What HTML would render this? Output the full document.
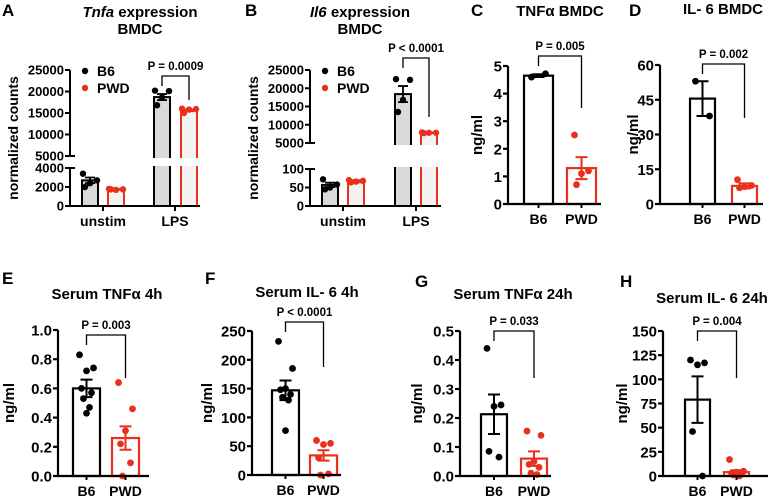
<!DOCTYPE html>
<html><head><meta charset="utf-8">
<style>
html,body{margin:0;padding:0;background:#fff;}
svg{display:block;font-family:"Liberation Sans",Arial,sans-serif;}
text{font-weight:bold;}
</style></head>
<body>
<svg id="fig" width="780" height="501" viewBox="0 0 780 501"></svg>
<script>
// ---- Data ----
const groupsAB = ["unstim","LPS"];
const aB6Means = [2700,18700];
const aB6Sem = [300,700];
const aPwdMeans = [1750,15600];
const aPwdSem = [50,200];
const aB6Pts = [[3400,2700,2400,2000],[20200,20100,18600,16800]];
const aPwdPts = [[1800,1750,1700,1750],[16000,15900,15800,15000]];
const aTicksUpper = [5000,10000,15000,20000,25000];
const aTicksLower = [0,2000,4000];

const bB6Means = [57,18400];
const bB6Sem = [6,2200];
const bPwdMeans = [67,7800];
const bPwdSem = [3,100];
const bB6Pts = [[72,58,50,45],[22500,22300,16800,13500]];
const bPwdPts = [[70,68,66,64],[7900,7800,7800,7700]];
const bTicksUpper = [5000,10000,15000,20000,25000];
const bTicksLower = [0,50,100];

const strains = ["B6","PWD"];
const cMeans=[4.65,1.3], cSem=[0.05,0.4], cB6=[4.6,4.72], cPwd=[2.5,1.2,1.1,0.7], cTicks=[0,1,2,3,4,5];
const dMeans=[45.5,7.8], dSem=[7.5,1.1], dB6=[53,38], dPwd=[10.5,8,7.5,7], dTicks=[0,15,30,45,60];
const eMeans=[0.6,0.26], eSem=[0.06,0.08], eB6=[0.83,0.74,0.72,0.6,0.57,0.53,0.47,0.43], ePwd=[0.64,0.46,0.31,0.22,0.09,0.0], eTicks=[0,0.2,0.4,0.6,0.8,1.0];
const fMeans=[147,34], fSem=[17,9], fB6=[232,185,150,148,140,135,130,77], fPwd=[60,55,53,30,2,0], fTicks=[0,50,100,150,200,250];
const gMeans=[0.213,0.06], gSem=[0.068,0.025], gB6=[0.44,0.245,0.24,0.085,0.065], gPwd=[0.155,0.14,0.05,0.04,0.03,0.01,0.005], gTicks=[0,0.1,0.2,0.3,0.4,0.5];
const hMeans=[79,4], hSem=[24,2], hB6=[120,117,115,46,0], hPwd=[17,5,4,3,2,1,0], hTicks=[0,25,50,75,100,125,150];

const RED="#e8301c";
const svg=document.getElementById('fig');
const NS="http://www.w3.org/2000/svg";
function mk(tag,attrs,parent){const e=document.createElementNS(NS,tag);for(const k in attrs)e.setAttribute(k,attrs[k]);(parent||svg).appendChild(e);return e;}
function txt(x,y,s,size,anchor,parent,extra){const t=mk('text',Object.assign({x:x,y:y,'font-size':size,'text-anchor':anchor||'middle'},extra||{}),parent);t.textContent=s;return t;}
const jit=[-7,7,0,-5,5,-3,3,0,-7];

function simplePanel(o){
  const g=mk('g',{});
  
  
  const max=o.ticks[o.ticks.length-1];
  const y=v=>o.y0-(v/max)*(o.y0-o.yTop);
  const lab=txt(o.letterX,o.letterY,o.letter,17,'start',g);
  
  
  const ti=txt(o.titleX,o.titleY,o.title,15,'middle',g);
  
  
  const yt=txt(0,0,'ng/ml',15,'middle',g,{transform:`translate(${o.ytX},${(o.y0+o.yTop)/2}) rotate(-90)`});
  
  
  const cols=['#000',RED];
  [0,1].forEach(i=>{
    const bx=o.barX[i], bw=o.barW;
    const r=mk('rect',{x:bx,y:y(o.means[i]),width:bw,height:o.y0-y(o.means[i]),fill:'#fff',stroke:cols[i],'stroke-width':2.2},g);
    
    
    const cx=bx+bw/2;
    const eb=mk('path',{d:`M${cx} ${y(o.means[i]-o.sem[i])}V${y(o.means[i]+o.sem[i])}M${cx-6} ${y(o.means[i]+o.sem[i])}H${cx+6}M${cx-6} ${y(o.means[i]-o.sem[i])}H${cx+6}`,stroke:cols[i],'stroke-width':2,fill:'none'},g);
    
    
    const pts=i==0?o.b6:o.pwd;
    pts.forEach((v,k)=>{
      const c=mk('circle',{cx:cx+jit[k%jit.length],cy:y(v),r:3.4,fill:cols[i]},g);
      
      
    });
    const xl=txt(cx,o.y0+20,strains[i],14,'middle',g);
    
    
  });
  const ax=mk('path',{d:`M${o.axX} ${o.yTop}V${o.y0}H${o.axEnd}`,stroke:'#000','stroke-width':2.2,fill:'none'},g);
  
  
  o.ticks.forEach(t=>{
    const tk=mk('line',{x1:o.axX-5,x2:o.axX,y1:y(t),y2:y(t),stroke:'#000','stroke-width':2.2},g);
    
    
    const tl=txt(o.axX-6,y(t)+5.5,o.fmt(t),15,'end',g);
    
    
  });
  [0,1].forEach(i=>{const cx=o.barX[i]+o.barW/2;mk('line',{x1:cx,x2:cx,y1:o.y0,y2:o.y0+4,stroke:'#000','stroke-width':2},g);});
  const c0=o.barX[0]+o.barW/2, c1=o.barX[1]+o.barW/2;
  const br=mk('path',{d:`M${c0} ${o.brY+10}V${o.brY}H${c1}V${o.brDrop}`,stroke:'#000','stroke-width':1.3,fill:'none'},g);
  
  
  const pl=txt((c0+c1)/2,o.brY-6,o.p,11.5,'middle',g);
  
  
}

function brokenPanel(o){
  const g=mk('g',{});
  
  
  const y=v=>v<=o.lowMax? o.y0-(v/o.lowMax)*(o.y0-o.lowTop) : (v<o.upMin? (o.lowTop+o.upBot)/2 : o.upBot-(v-o.upMin)/(o.upMax-o.upMin)*(o.upBot-o.yTop));
  const lab=txt(o.letterX,16,o.letter,17,'start',g);
  
  
  const ti=mk('text',{x:o.titleX,y:17,'font-size':15,'text-anchor':'middle'},g);
  
  
  const ts=mk('tspan',{'font-style':'italic'},ti);ts.textContent=o.gene;
  const ts2=mk('tspan',{},ti);ts2.textContent=' expression';
  const t2=txt(o.titleX,34,'BMDC',15,'middle',g);
  
  
  const yt=txt(0,0,'normalized counts',14,'middle',g,{transform:`translate(${o.ytX},138) rotate(-90)`});
  
  
  groupsAB.forEach((gname,gi)=>{
    [[o.b6m,o.b6s,o.b6p,'#000','#d9d9d9'],[o.pm,o.ps,o.pp,RED,'#f2f2f2']].forEach((s,si)=>{
      const bx=o.barX[gi][si];
      const r=mk('rect',{x:bx,y:y(s[0][gi]),width:o.barW,height:o.y0-y(s[0][gi]),fill:s[4],stroke:s[3],'stroke-width':2},g);
      
      
      const cx=bx+o.barW/2, m=s[0][gi], e=s[1][gi];
      const eb=mk('path',{d:`M${cx} ${y(m-e)}V${y(m+e)}M${cx-5} ${y(m+e)}H${cx+5}M${cx-5} ${y(m-e)}H${cx+5}`,stroke:s[3],'stroke-width':1.8,fill:'none'},g);
      
      
      s[2][gi].forEach((v,k)=>{
        const c=mk('circle',{cx:cx+jit[k],cy:y(v),r:3.2,fill:s[3]},g);
        
        
      });
    });
    const xl=txt(o.grpX[gi],o.y0+20,gname,14,'middle',g);
    
    
    mk('line',{x1:o.grpX[gi],x2:o.grpX[gi],y1:o.y0,y2:o.y0+5,stroke:'#000','stroke-width':2},g);
  });
  const gap=mk('rect',{x:o.axX-8,y:o.upBot+2,width:o.axEnd-o.axX+10,height:o.lowTop-o.upBot-4,fill:'#fff'},g);
  
  
  const ax=mk('path',{d:`M${o.axX} ${o.yTop}V${o.upBot}M${o.axX} ${o.lowTop}V${o.y0}H${o.axEnd}M${o.axX-5} ${o.upBot}H${o.axX+5}M${o.axX-5} ${o.lowTop}H${o.axX+5}`,stroke:'#000','stroke-width':2,fill:'none'},g);
  
  
  o.ticksU.concat(o.ticksL).forEach(t=>{
    mk('line',{x1:o.axX-5,x2:o.axX,y1:y(t),y2:y(t),stroke:'#000','stroke-width':2},g);
    const tl=txt(o.axX-6,y(t)+4.5,String(t),13,'end',g);
    
    
  });
  [['B6','#000'],['PWD',RED]].forEach((l,i)=>{
    const c=mk('circle',{cx:o.axX+15,cy:71+i*17,r:3.2,fill:l[1]},g);
    
    
    const t=txt(o.axX+27,76+i*17,l[0],14,'start',g);
    
    
  });
  const c0=o.barX[1][0]+o.barW/2, c1=o.barX[1][1]+o.barW/2;
  const br=mk('path',{d:`M${c0} ${o.brY+10}V${o.brY}H${c1}V${o.brDrop}`,stroke:'#000','stroke-width':1.3,fill:'none'},g);
  
  
  const pl=txt((c0+c1)/2,o.brY-6,o.p,11.5,'middle',g);
  
  
}

brokenPanel({name:'panel-a',letter:'A',letterX:2,gene:'Tnfa',titleX:140,ytX:18,axX:70,axEnd:200,y0:206,lowMax:4000,lowTop:168,upMin:5000,upMax:25000,upBot:156,yTop:70,
  barX:[[82,108],[154,181]],barW:16,grpX:[103,175],b6m:aB6Means,b6s:aB6Sem,b6p:aB6Pts,pm:aPwdMeans,ps:aPwdSem,pp:aPwdPts,ticksU:aTicksUpper,ticksL:aTicksLower,brY:76,brDrop:100,p:'P = 0.0009'});
brokenPanel({name:'panel-b',letter:'B',letterX:245,gene:'Il6',titleX:360,ytX:258,axX:310,axEnd:441,y0:206,lowMax:100,lowTop:169,upMin:5000,upMax:25000,upBot:143,yTop:70,
  barX:[[322,348],[395,421]],barW:16,grpX:[343,416],b6m:bB6Means,b6s:bB6Sem,b6p:bB6Pts,pm:bPwdMeans,ps:bPwdSem,pp:bPwdPts,ticksU:bTicksUpper,ticksL:bTicksLower,brY:58,brDrop:117,p:'P < 0.0001'});

const f1=v=>String(v), f2=v=>v.toFixed(1);
simplePanel({name:'panel-c',letter:'C',letterX:471,letterY:16,title:'TNFα BMDC',titleX:560,titleY:16,ytX:482,axX:508,axEnd:601,y0:204,yTop:66,ticks:cTicks,fmt:f1,barX:[524,567],barW:29,means:cMeans,sem:cSem,b6:cB6,pwd:cPwd,brY:56,brDrop:108,p:'P = 0.005'});
simplePanel({name:'panel-d',letter:'D',letterX:629,letterY:16,title:'IL- 6 BMDC',titleX:723,titleY:14,ytX:638,axX:660,axEnd:763,y0:204,yTop:65,ticks:dTicks,fmt:f1,barX:[690,732],barW:25,means:dMeans,sem:dSem,b6:dB6,pwd:dPwd,brY:64,brDrop:118,p:'P = 0.002'});
simplePanel({name:'panel-e',letter:'E',letterX:2,letterY:284,title:'Serum TNFα 4h',titleX:107,titleY:299,ytX:14,axX:58,axEnd:149,y0:476,yTop:330,ticks:eTicks,fmt:f2,barX:[73,112],barW:27,means:eMeans,sem:eSem,b6:eB6,pwd:ePwd,brY:335,brDrop:378,p:'P = 0.003'});
simplePanel({name:'panel-f',letter:'F',letterX:205,letterY:284,title:'Serum IL- 6 4h',titleX:307,titleY:297,ytX:212,axX:252,axEnd:341,y0:475,yTop:331,ticks:fTicks,fmt:f1,barX:[272,310],barW:27,means:fMeans,sem:fSem,b6:fB6,pwd:fPwd,brY:322,brDrop:367,p:'P < 0.0001'});
simplePanel({name:'panel-g',letter:'G',letterX:415,letterY:287,title:'Serum TNFα 24h',titleX:513,titleY:299,ytX:422,axX:460,axEnd:551,y0:476,yTop:331,ticks:gTicks,fmt:f2,barX:[481,521],barW:26,means:gMeans,sem:gSem,b6:gB6,pwd:gPwd,brY:331,brDrop:378,p:'P = 0.033'});
simplePanel({name:'panel-h',letter:'H',letterX:620,letterY:287,title:'Serum IL- 6 24h',titleX:712,titleY:303,ytX:627,axX:663,axEnd:768,y0:476,yTop:331,ticks:hTicks,fmt:f1,barX:[685,724],barW:25,means:hMeans,sem:hSem,b6:hB6,pwd:hPwd,brY:331,brDrop:378,p:'P = 0.004'});
</script>
</body></html>
